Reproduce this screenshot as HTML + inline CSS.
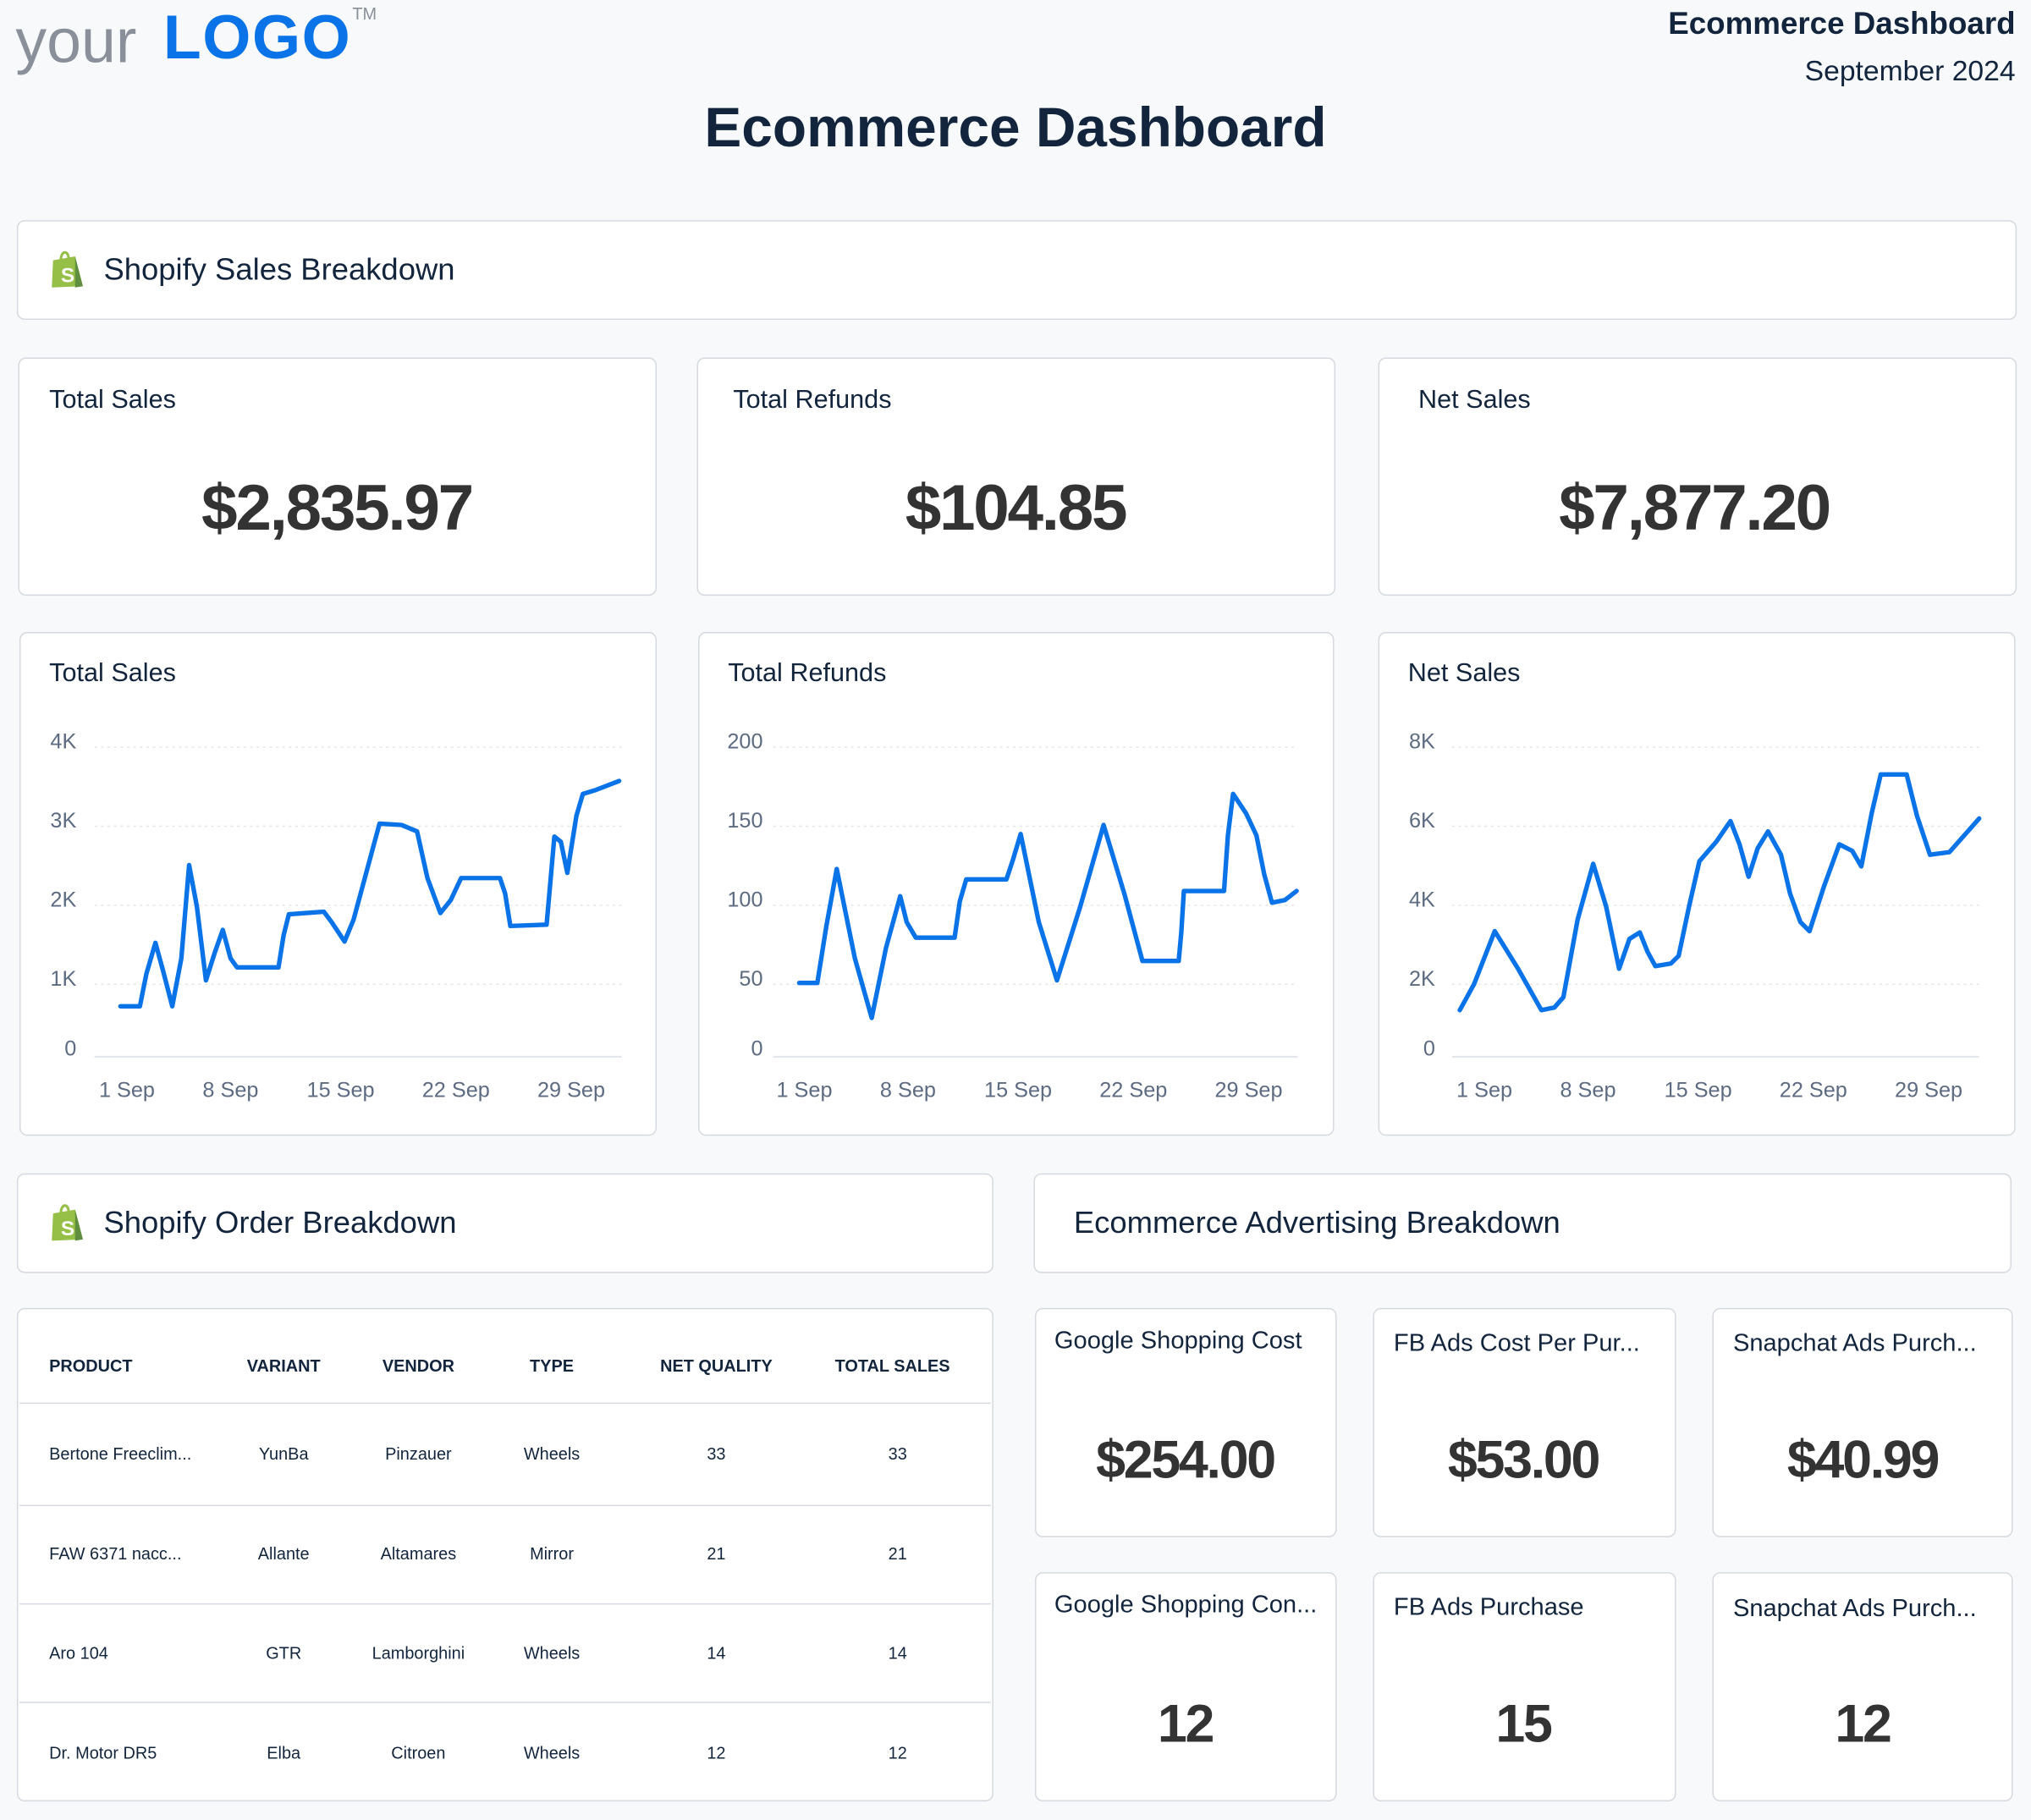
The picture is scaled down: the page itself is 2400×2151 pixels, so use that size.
<!DOCTYPE html>
<html><head><meta charset="utf-8"><style>
html,body{margin:0;padding:0;width:2400px;height:2150px;overflow:hidden;background:#f7f9fb}
#p{position:absolute;left:0;top:0;width:1568px;height:1405px;transform:scale(1.5306);transform-origin:0 0;font-family:"Liberation Sans",Arial,sans-serif;color:#12253d}
.b{position:absolute;background:#fff;border:1.5px solid #d6dae0;border-radius:6px;box-sizing:border-box}
.t{position:absolute;white-space:nowrap;line-height:1}
.v{font-weight:bold;color:#333;letter-spacing:-1.5px}
.c{transform:translateX(-50%)}
.ax{fill:#5d6b82;font-size:16.5px;font-family:"Liberation Sans",Arial,sans-serif}
.th{font-size:13px;font-weight:bold}
.td{font-size:13px}
</style></head><body><div id="p">
<div class="t" style="left:12px;top:9px;font-size:48px;color:#8a9099">your</div>
<div class="t" style="left:126px;top:6px;font-size:48px;font-weight:900;color:#0b73e8;letter-spacing:1px">LOGO</div>
<div class="t" style="left:272px;top:4px;font-size:13px;color:#8a9099">TM</div>
<div class="t" style="right:12px;top:7px;font-size:24px;font-weight:bold">Ecommerce Dashboard</div>
<div class="t" style="right:12px;top:44px;font-size:22px">September 2024</div>
<div class="t c" style="left:784px;top:78px;font-size:43px;font-weight:bold">Ecommerce Dashboard</div>

<div class="b" style="left:13px;top:170px;width:1544px;height:77px"></div>
<svg style="position:absolute;left:38px;top:193px" width="28" height="30" viewBox="0 0 28 30"><path d="M3 8 L20 5 L26 28 L2 29 Z" fill="#95bf47"/><path d="M20 5 L26 28 L20 29 Z" fill="#5e8e3e"/><path d="M9 8 C9 0 15 0 15 7" fill="none" stroke="#95bf47" stroke-width="2"/><text x="9" y="25" font-size="16" font-weight="bold" fill="#fff" font-family="Liberation Sans">S</text></svg>
<div class="t" style="left:80px;top:197px;font-size:23.8px">Shopify Sales Breakdown</div>

<div class="b" style="left:14px;top:276px;width:493px;height:184px"></div>
<div class="b" style="left:538px;top:276px;width:493px;height:184px"></div>
<div class="b" style="left:1064px;top:276px;width:493px;height:184px"></div>
<div class="t" style="left:38px;top:299px;font-size:20px">Total Sales</div>
<div class="t" style="left:566px;top:299px;font-size:20px">Total Refunds</div>
<div class="t" style="left:1095px;top:299px;font-size:20px">Net Sales</div>
<div class="t v c" style="left:260px;top:367px;font-size:50px">$2,835.97</div>
<div class="t v c" style="left:784px;top:367px;font-size:50px">$104.85</div>
<div class="t v c" style="left:1308px;top:367px;font-size:50px">$7,877.20</div>

<div class="b" style="left:15px;top:488px;width:492px;height:389px"></div>
<div class="b" style="left:539px;top:488px;width:491px;height:389px"></div>
<div class="b" style="left:1064px;top:488px;width:492px;height:389px"></div>
<div class="t" style="left:38px;top:510px;font-size:20px">Total Sales</div>
<div class="t" style="left:562px;top:510px;font-size:20px">Total Refunds</div>
<div class="t" style="left:1087px;top:510px;font-size:20px">Net Sales</div>

<svg style="position:absolute;left:0;top:0" width="1568" height="1405">
<g stroke="#e3e6ea" stroke-dasharray="2,3" stroke-width="1">
<line x1="73" x2="480" y1="577" y2="577"/><line x1="73" x2="480" y1="638" y2="638"/><line x1="73" x2="480" y1="699" y2="699"/><line x1="73" x2="480" y1="760" y2="760"/>
<line x1="597" x2="1002" y1="577" y2="577"/><line x1="597" x2="1002" y1="638" y2="638"/><line x1="597" x2="1002" y1="699" y2="699"/><line x1="597" x2="1002" y1="760" y2="760"/>
<line x1="1121" x2="1528" y1="577" y2="577"/><line x1="1121" x2="1528" y1="638" y2="638"/><line x1="1121" x2="1528" y1="699" y2="699"/><line x1="1121" x2="1528" y1="760" y2="760"/>
</g>
<g stroke="#e3e6ea" stroke-width="1.5"><line x1="73" x2="480" y1="816" y2="816"/><line x1="597" x2="1002" y1="816" y2="816"/><line x1="1121" x2="1528" y1="816" y2="816"/></g>
<g class="ax" text-anchor="end">
<text x="59" y="578">4K</text><text x="59" y="639">3K</text><text x="59" y="700">2K</text><text x="59" y="761">1K</text><text x="59" y="815">0</text>
<text x="589" y="578">200</text><text x="589" y="639">150</text><text x="589" y="700">100</text><text x="589" y="761">50</text><text x="589" y="815">0</text>
<text x="1108" y="578">8K</text><text x="1108" y="639">6K</text><text x="1108" y="700">4K</text><text x="1108" y="761">2K</text><text x="1108" y="815">0</text>
</g>
<g class="ax" text-anchor="middle">
<text x="98" y="847">1 Sep</text><text x="178" y="847">8 Sep</text><text x="263" y="847">15 Sep</text><text x="352" y="847">22 Sep</text><text x="441" y="847">29 Sep</text>
<text x="621" y="847">1 Sep</text><text x="701" y="847">8 Sep</text><text x="786" y="847">15 Sep</text><text x="875" y="847">22 Sep</text><text x="964" y="847">29 Sep</text>
<text x="1146" y="847">1 Sep</text><text x="1226" y="847">8 Sep</text><text x="1311" y="847">15 Sep</text><text x="1400" y="847">22 Sep</text><text x="1489" y="847">29 Sep</text>
</g>
<g fill="none" stroke="#0b73e8" stroke-width="3.5" stroke-linejoin="round" stroke-linecap="round">
<polyline points="93,777 108,777 113,752 120,728 126,750 133,777 140,740 146,668 152,700 159,757 166,735 172,718 178,740 183,747 215,747 219,722 223,706 250,704 256,712 266,727 273,710 293,636 310,637 322,642 330,678 340,705 348,695 356,678 386,678 390,690 394,715 422,714 425,680 428,646 433,650 438,674 445,630 450,613 460,610 478,603"/>
<polyline points="617,759 631,759 638,715 646,671 660,740 673,786 684,732 695,692 700,712 707,724 737,724 741,696 746,679 777,679 782,664 788,644 802,712 816,757 834,700 852,637 868,690 882,742 910,742 912,720 914,688 945,688 948,645 952,613 962,628 970,645 976,675 982,697 992,695 1001,688"/>
<polyline points="1127,780 1138,760 1154,719 1172,748 1190,780 1200,778 1207,770 1218,710 1230,667 1240,700 1250,748 1258,725 1266,720 1272,735 1278,746 1290,744 1296,738 1304,700 1312,665 1325,650 1336,634 1343,652 1350,677 1357,655 1365,642 1375,660 1382,690 1390,712 1397,719 1408,685 1420,652 1430,657 1437,669 1445,628 1452,598 1472,598 1480,630 1490,660 1505,658 1528,632"/>
</g>
</svg>

<div class="b" style="left:13px;top:906px;width:754px;height:77px"></div>
<svg style="position:absolute;left:38px;top:929px" width="28" height="30" viewBox="0 0 28 30"><path d="M3 8 L20 5 L26 28 L2 29 Z" fill="#95bf47"/><path d="M20 5 L26 28 L20 29 Z" fill="#5e8e3e"/><path d="M9 8 C9 0 15 0 15 7" fill="none" stroke="#95bf47" stroke-width="2"/><text x="9" y="25" font-size="16" font-weight="bold" fill="#fff" font-family="Liberation Sans">S</text></svg>
<div class="t" style="left:80px;top:933px;font-size:23.8px">Shopify Order Breakdown</div>
<div class="b" style="left:798px;top:906px;width:755px;height:77px"></div>
<div class="t" style="left:829px;top:933px;font-size:23.8px">Ecommerce Advertising Breakdown</div>

<div class="b" style="left:13px;top:1010px;width:754px;height:381px"></div>
<div style="position:absolute;left:15px;top:1083px;width:750px;height:1px;background:#d6dae0"></div>
<div style="position:absolute;left:15px;top:1162px;width:750px;height:1px;background:#d6dae0"></div>
<div style="position:absolute;left:15px;top:1238px;width:750px;height:1px;background:#d6dae0"></div>
<div style="position:absolute;left:15px;top:1314px;width:750px;height:1px;background:#d6dae0"></div>
<div class="t th" style="left:38px;top:1048px">PRODUCT</div>
<div class="t th c" style="left:219px;top:1048px">VARIANT</div>
<div class="t th c" style="left:323px;top:1048px">VENDOR</div>
<div class="t th c" style="left:426px;top:1048px">TYPE</div>
<div class="t th c" style="left:553px;top:1048px">NET QUALITY</div>
<div class="t th c" style="left:689px;top:1048px">TOTAL SALES</div>

<div class="t td" style="left:38px;top:1116px">Bertone Freeclim...</div>
<div class="t td c" style="left:219px;top:1116px">YunBa</div>
<div class="t td c" style="left:323px;top:1116px">Pinzauer</div>
<div class="t td c" style="left:426px;top:1116px">Wheels</div>
<div class="t td c" style="left:553px;top:1116px">33</div>
<div class="t td c" style="left:693px;top:1116px">33</div>

<div class="t td" style="left:38px;top:1193px">FAW 6371 nacc...</div>
<div class="t td c" style="left:219px;top:1193px">Allante</div>
<div class="t td c" style="left:323px;top:1193px">Altamares</div>
<div class="t td c" style="left:426px;top:1193px">Mirror</div>
<div class="t td c" style="left:553px;top:1193px">21</div>
<div class="t td c" style="left:693px;top:1193px">21</div>

<div class="t td" style="left:38px;top:1270px">Aro 104</div>
<div class="t td c" style="left:219px;top:1270px">GTR</div>
<div class="t td c" style="left:323px;top:1270px">Lamborghini</div>
<div class="t td c" style="left:426px;top:1270px">Wheels</div>
<div class="t td c" style="left:553px;top:1270px">14</div>
<div class="t td c" style="left:693px;top:1270px">14</div>

<div class="t td" style="left:38px;top:1347px">Dr. Motor DR5</div>
<div class="t td c" style="left:219px;top:1347px">Elba</div>
<div class="t td c" style="left:323px;top:1347px">Citroen</div>
<div class="t td c" style="left:426px;top:1347px">Wheels</div>
<div class="t td c" style="left:553px;top:1347px">12</div>
<div class="t td c" style="left:693px;top:1347px">12</div>

<div class="b" style="left:799px;top:1010px;width:233px;height:177px"></div>
<div class="b" style="left:1060px;top:1010px;width:234px;height:177px"></div>
<div class="b" style="left:1322px;top:1010px;width:232px;height:177px"></div>
<div class="b" style="left:799px;top:1214px;width:233px;height:177px"></div>
<div class="b" style="left:1060px;top:1214px;width:234px;height:177px"></div>
<div class="b" style="left:1322px;top:1214px;width:232px;height:177px"></div>
<div class="t" style="left:814px;top:1026px;font-size:19px">Google Shopping Cost</div>
<div class="t" style="left:1076px;top:1028px;font-size:19px">FB Ads Cost Per Pur...</div>
<div class="t" style="left:1338px;top:1028px;font-size:19px">Snapchat Ads Purch...</div>
<div class="t" style="left:814px;top:1230px;font-size:19px">Google Shopping Con...</div>
<div class="t" style="left:1076px;top:1232px;font-size:19px">FB Ads Purchase</div>
<div class="t" style="left:1338px;top:1233px;font-size:19px">Snapchat Ads Purch...</div>
<div class="t v c" style="left:915px;top:1107px;font-size:41px">$254.00</div>
<div class="t v c" style="left:1176px;top:1107px;font-size:41px">$53.00</div>
<div class="t v c" style="left:1438px;top:1107px;font-size:41px">$40.99</div>
<div class="t v c" style="left:915px;top:1311px;font-size:41px">12</div>
<div class="t v c" style="left:1176px;top:1311px;font-size:41px">15</div>
<div class="t v c" style="left:1438px;top:1311px;font-size:41px">12</div>
</div></body></html>
